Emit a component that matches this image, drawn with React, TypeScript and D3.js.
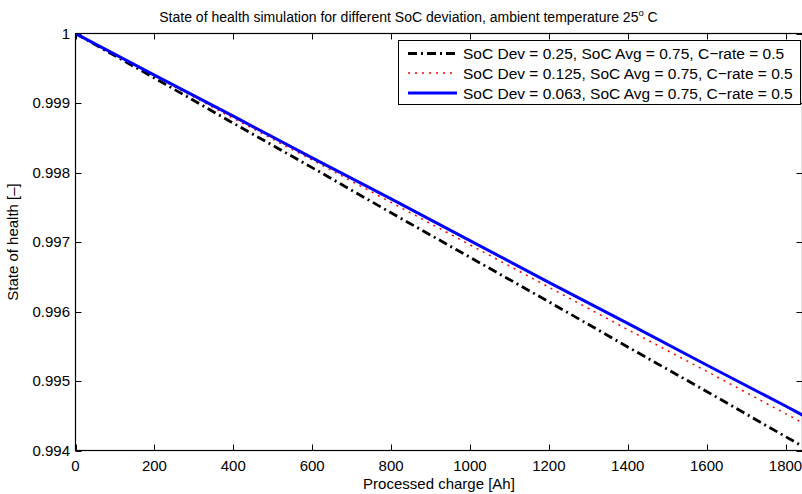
import React from "react";
import * as d3 from "d3";

const charge = [0, 200, 400, 600, 800, 1000, 1200, 1400, 1600, 1800, 1843];
const sohDev025 = [1, 0.99936, 0.99871, 0.99807, 0.99742, 0.99678, 0.99614, 0.99549, 0.99485, 0.9942, 0.99406];
const sohDev0125 = [1, 0.99939, 0.99878, 0.99818, 0.99757, 0.99696, 0.99635, 0.99574, 0.99514, 0.99453, 0.9944];
const sohDev0063 = [1, 0.9994, 0.99881, 0.99821, 0.99762, 0.99702, 0.99642, 0.99583, 0.99523, 0.99464, 0.99451];
const seriesLabels = [
  "SoC Dev = 0.25, SoC Avg = 0.75, C\u2212rate = 0.5",
  "SoC Dev = 0.125, SoC Avg = 0.75, C\u2212rate = 0.5",
  "SoC Dev = 0.063, SoC Avg = 0.75, C\u2212rate = 0.5",
];
const xTicks = [0, 200, 400, 600, 800, 1000, 1200, 1400, 1600, 1800];
const yTicks = [0.994, 0.995, 0.996, 0.997, 0.998, 0.999, 1];

const W = 802, H = 494;
const L = 75.5, T = 33.5, R = 802.5, B = 450.5;
const FONT = "'Liberation Sans', Arial, Helvetica, sans-serif";

export default function App() {
  const x = d3.scaleLinear().domain([0, 1843]).range([L, R]);
  const y = d3.scaleLinear().domain([0.994, 1]).range([B, T]);
  const styles = [
    { color: "#000000", width: 2.8, dash: "9,4,2,4" },
    { color: "#ff0000", width: 1.5, dash: "2,5" },
    { color: "#0000ff", width: 3, dash: "" },
  ];
  const data = [sohDev025, sohDev0125, sohDev0063];
  const line = (vals: number[]) =>
    d3.line<number>().x((_, i) => x(charge[i])).y((v) => y(v))(vals) || "";
  const tickLen = 6;
  const lgX = 398.5, lgY = 40.5, lgW = 402, lgH = 64;
  const rowY = [53.5, 73, 93];
  return (
    <svg width={W} height={H} style={{ position: "absolute", left: 0, top: 0, background: "#fff" }} fontFamily={FONT}>
      <rect x={0} y={0} width={W} height={H} fill="#fff" />
      <defs>
        <clipPath id="plot">
          <rect x={L} y={T} width={R - L} height={B - T} />
        </clipPath>
      </defs>
      {xTicks.map((t) => (
        <g key={"x" + t}>
          <line x1={Math.round(x(t)) + 0.5} x2={Math.round(x(t)) + 0.5} y1={B} y2={B - tickLen} stroke="#000" strokeWidth={1} />
          <line x1={Math.round(x(t)) + 0.5} x2={Math.round(x(t)) + 0.5} y1={T} y2={T + tickLen} stroke="#000" strokeWidth={1} />
          <text x={x(t)} y={471} fontSize={15} textAnchor="middle" fill="#000">{t}</text>
        </g>
      ))}
      {yTicks.map((t) => (
        <g key={"y" + t}>
          <line x1={L} x2={L + tickLen} y1={Math.round(y(t)) + 0.5} y2={Math.round(y(t)) + 0.5} stroke="#000" strokeWidth={1} />
          <line x1={R} x2={R - tickLen} y1={Math.round(y(t)) + 0.5} y2={Math.round(y(t)) + 0.5} stroke="#000" strokeWidth={1} />
          <text x={70} y={y(t) + 5} fontSize={15} textAnchor="end" fill="#000">{d3.format("")(t)}</text>
        </g>
      ))}
      <g clipPath="url(#plot)">
        {data.map((d, i) => (
          <path key={i} d={line(d)} fill="none" stroke={styles[i].color} strokeWidth={styles[i].width}
            strokeDasharray={styles[i].dash || undefined} />
        ))}
      </g>
      <rect x={L} y={T} width={R - L} height={B - T} fill="none" stroke="#000" strokeWidth={1.2} />
      <rect x={lgX} y={lgY} width={lgW} height={lgH} fill="#fff" stroke="#000" strokeWidth={1} />
      {seriesLabels.map((s, i) => (
        <g key={s}>
          <line x1={408} x2={457} y1={rowY[i]} y2={rowY[i]} stroke={styles[i].color} strokeWidth={styles[i].width}
            strokeDasharray={styles[i].dash || undefined} />
          <text x={463} y={rowY[i] + 5.5} fontSize={15.5} fill="#000">{s}</text>
        </g>
      ))}
      <text x={408.5} y={22} fontSize={14} textAnchor="middle" fill="#000">
        State of health simulation for different SoC deviation, ambient temperature 25
        <tspan fontSize={9.5} dy={-6}>o</tspan>
        <tspan dy={6}> C</tspan>
      </text>
      <text x={(L + R) / 2} y={489} fontSize={15} textAnchor="middle" fill="#000">Processed charge [Ah]</text>
      <text transform={`translate(18,${(T + B) / 2}) rotate(-90)`} fontSize={15} textAnchor="middle" fill="#000">
        State of health [–]
      </text>
    </svg>
  );
}
